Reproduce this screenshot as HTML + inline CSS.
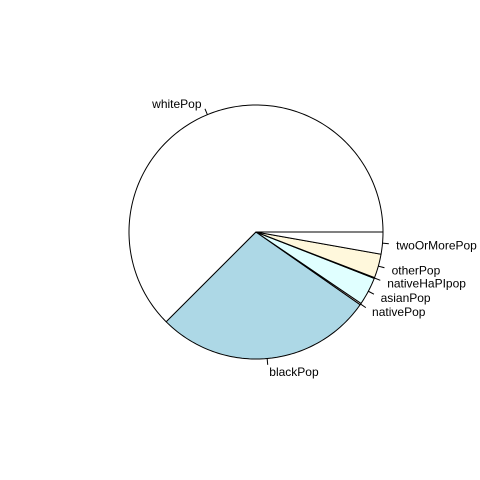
<!DOCTYPE html>
<html><head><meta charset="utf-8"><style>body{margin:0;background:#fff}svg{display:block}text{font-family:"Liberation Sans",Arial,sans-serif;font-size:12px}</style></head>
<body>
<svg id="chart" width="480" height="480" viewBox="0 0 480 480"></svg>
<script>
const categories=["whitePop","blackPop","nativePop","asianPop","nativeHaPIpop","otherPop","twoOrMorePop"];
const values=[625,278,2,35.5,1,30.5,28];
const colors=["#FFFFFF","#ADD8E6","#FFE4E1","#E0FFFF","#E6E6FA","#FFF8DC","#FFFFFF"];
const svg=document.getElementById('chart');
const NS="http://www.w3.org/2000/svg";
const cx=256,cy=232,R=127;
const total=values.reduce((a,b)=>a+b,0);
function pt(a,r){return [cx+r*Math.cos(a),cy-r*Math.sin(a)];}
let start=0;
values.forEach((v,i)=>{
  const sweep=v/total*2*Math.PI, end=start+sweep;
  const n=Math.max(2,Math.ceil(sweep/0.02));
  let d=`M${cx},${cy}`;
  for(let k=0;k<=n;k++){const p=pt(start+sweep*k/n,R);d+=`L${p[0].toFixed(2)},${p[1].toFixed(2)}`;}
  d+='Z';
  const path=document.createElementNS(NS,'path');
  path.setAttribute('d',d);path.setAttribute('fill',colors[i]);path.setAttribute('stroke','#000');path.setAttribute('stroke-width','1');
  
  
  svg.appendChild(path);
  const mid=(start+end)/2;
  const p1=pt(mid,R),p2=pt(mid,R*1.05),p3=pt(mid,R*1.1);
  const ln=document.createElementNS(NS,'line');
  ln.setAttribute('x1',p1[0]);ln.setAttribute('y1',p1[1]);ln.setAttribute('x2',p2[0]);ln.setAttribute('y2',p2[1]);ln.setAttribute('stroke','#000');
  
  
  svg.appendChild(ln);
  const t=document.createElementNS(NS,'text');
  const right=Math.cos(mid)>0;
  t.setAttribute('x',p3[0]+(right?1:-1));t.setAttribute('y',p3[1]+5);
  t.setAttribute('text-anchor',right?'start':'end');
  t.textContent=categories[i];
  
  
  svg.appendChild(t);
  start=end;
});
</script>
</body></html>
